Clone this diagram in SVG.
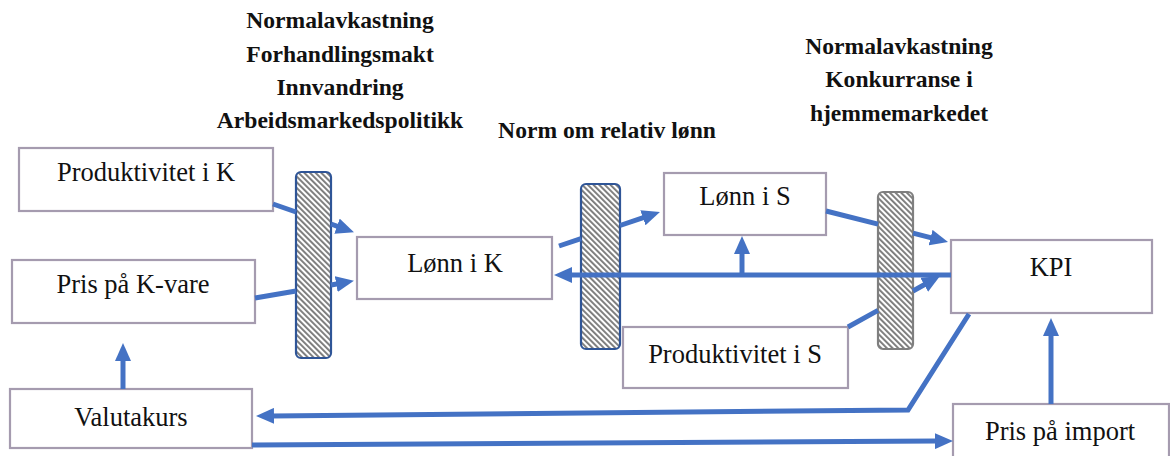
<svg xmlns="http://www.w3.org/2000/svg" width="1170" height="456" viewBox="0 0 1170 456">
  <style>
    .box { fill: #ffffff; stroke: #A59BAF; stroke-width: 2.2; }
    .lbl { font-size: 26.5px; fill: #111111; text-anchor: middle; }
    .note { font-size: 23.6px; font-weight: bold; fill: #111111; text-anchor: middle; }
    .bar { fill: url(#hatch); stroke-width: 2.2; }
    .bar-blue { stroke: #2F5597; }
    .bar-gray { stroke: #7F7F7F; }
    .conn { fill: none; stroke: #4472C4; stroke-width: 5; stroke-linejoin: miter; marker-end: url(#head); }
  </style>
  <defs>
    <pattern id="hatch" patternUnits="userSpaceOnUse" width="4" height="4" patternTransform="rotate(-45)">
      <rect x="0" y="0" width="4" height="4" fill="#ffffff"/>
      <rect x="0" y="0" width="1.9" height="4" fill="#7A7A7A"/>
    </pattern>
    <marker id="head" markerUnits="userSpaceOnUse" markerWidth="18" markerHeight="16" refX="2" refY="8" orient="auto">
      <path d="M0,0 L18,8 L0,16 Z" fill="#4472C4"/>
    </marker>
  </defs>

  <g font-family="Liberation Serif, DejaVu Serif, serif">
  <!-- influence labels -->
  <g id="labels-k">
    <text class="note" x="340" y="28">Normalavkastning</text>
    <text class="note" x="340" y="62">Forhandlingsmakt</text>
    <text class="note" x="340" y="95">Innvandring</text>
    <text class="note" x="340" y="128">Arbeidsmarkedspolitikk</text>
  </g>
  <g id="label-norm">
    <text class="note" x="607" y="138">Norm om relativ lønn</text>
  </g>
  <g id="labels-s">
    <text class="note" x="899" y="54">Normalavkastning</text>
    <text class="note" x="899" y="87">Konkurranse i</text>
    <text class="note" x="899" y="121">hjemmemarkedet</text>
  </g>

  <!-- hatched filters -->
  <g id="filter-k"><rect class="bar bar-blue" x="296" y="172" width="35" height="186" rx="5"/></g>
  <g id="filter-norm"><rect class="bar bar-blue" x="581" y="184" width="39" height="165" rx="5"/></g>
  <g id="filter-s"><rect class="bar bar-gray" x="878" y="192" width="35" height="157" rx="5"/></g>

  <!-- nodes -->
  <g id="prod-k"><rect class="box" x="19" y="148" width="254" height="63"/><text class="lbl" x="146" y="181">Produktivitet i K</text></g>
  <g id="pris-k"><rect class="box" x="12" y="260" width="243" height="63"/><text class="lbl" x="133" y="293">Pris på K-vare</text></g>
  <g id="lonn-k"><rect class="box" x="357" y="237" width="195" height="62"/><text class="lbl" x="455" y="272">Lønn i K</text></g>
  <g id="lonn-s"><rect class="box" x="664" y="173" width="162" height="62"/><text class="lbl" x="745" y="205">Lønn i S</text></g>
  <g id="kpi"><rect class="box" x="951" y="240" width="201" height="73"/><text class="lbl" x="1051" y="276">KPI</text></g>
  <g id="prod-s"><rect class="box" x="623" y="327" width="225" height="61"/><text class="lbl" x="735" y="363">Produktivitet i S</text></g>
  <g id="valuta"><rect class="box" x="10" y="389" width="242" height="59"/><text class="lbl" x="131" y="426">Valutakurs</text></g>
  <g id="pris-import"><rect class="box" x="953" y="404" width="216" height="56"/><text class="lbl" x="1060" y="440">Pris på import</text></g>
  </g>

  <!-- connectors -->
  <g id="connectors">
    <path class="conn" d="M273,204 L296,212 M331,224 L338.9,226.8"/>
    <path class="conn" d="M255,298 L296,291 M331,285 L338.2,283.7"/>
    <path class="conn" d="M123,389 L123,359"/>
    <path class="conn" d="M559,246 L581,238.6 M620,225.5 L644.8,217.1"/>
    <path class="conn" d="M951,275 L570,275"/>
    <path class="conn" d="M742,275 L742,252"/>
    <path class="conn" d="M826,211 L878,224.2 M913,233.1 L932.5,238.1"/>
    <path class="conn" d="M848,327 L878,310.4 M913,291 L926,283.8"/>
    <path class="conn" d="M969,314 L908,410 L272,415.9"/>
    <path class="conn" d="M252,445 L937,441.1"/>
    <path class="conn" d="M1051,404 L1051,334"/>
  </g>
</svg>
